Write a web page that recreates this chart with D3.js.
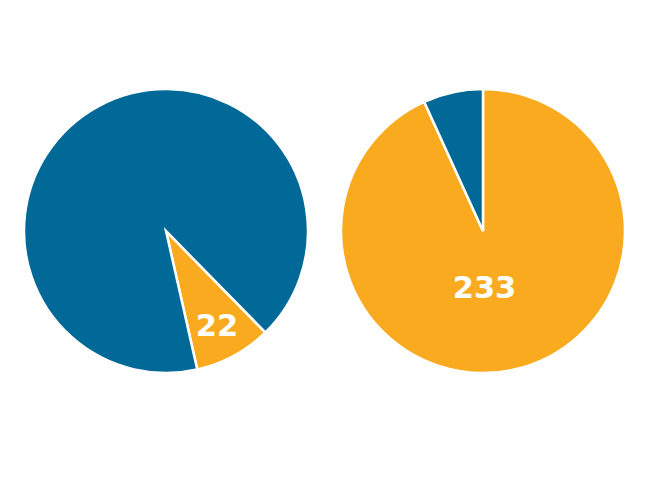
<!DOCTYPE html>
<html>
<head>
<meta charset="utf-8">
<script src="https://cdn.jsdelivr.net/npm/d3@7"></script>
<style>
  body { margin: 0; background: #fff; }
  svg { display: block; }
</style>
</head>
<body>
<svg width="649" height="480"></svg>
<script>
// two pies, same categories, totals of 250 each
const categories = ['yes', 'no'];
const leftValues = [22, 228];
const rightValues = [233, 17];
const labelShown = [true, false];

const colors = ['#f9aa1f', '#016997'];

const svg = d3.select('svg');
const radius = 142;

const color = d3.scaleOrdinal().domain(categories).range(colors);

// left pie starts its orange slice lower right, right one at 12 o'clock
const pies = [
  { values: leftValues, cx: 166, cy: 231, start: 135.6 },
  { values: rightValues, cx: 483, cy: 231, start: 0 }
];

const arc = d3.arc().innerRadius(0).outerRadius(radius);
const labelArc = d3.arc().innerRadius(radius * 0.75).outerRadius(radius * 0.75);

pies.forEach(p => {
  const startRad = (p.start * Math.PI) / 180;
  const pie = d3
    .pie()
    .sort(null)
    .startAngle(startRad)
    .endAngle(startRad + 2 * Math.PI);

  const rows = categories.map((c, i) => ({ key: c, value: p.values[i], label: labelShown[i] }));
  const arcs = pie.value(d => d.value)(rows);
  const total = d3.sum(p.values);

  const g = svg.append('g').attr('transform', `translate(${p.cx},${p.cy})`);

  g.selectAll('path')
    .data(arcs)
    .join('path')
    .attr('d', arc)
    .attr('fill', d => color(d.data.key))
    .attr('stroke', '#fff')
    .attr('stroke-width', 2.5)
    .attr('stroke-linejoin', 'miter');

  const fontSize = 30.5;
  g.selectAll('text')
    .data(arcs.filter(d => d.data.label))
    .join('text')
    .attr('transform', d => {
      // big slices get their label just under the centre
      if (d.data.value / total > 0.5) return `translate(1.5,${radius * 0.39})`;
      const [x, y] = labelArc.centroid(d);
      return `translate(${x},${y})`;
    })
    .attr('y', fontSize * 0.365)
    .attr('text-anchor', 'middle')
    .style('font-family', '"DejaVu Sans", sans-serif')
    .style('font-weight', 700)
    .style('font-size', fontSize + 'px')
    .attr('fill', '#fff')
    .text(d => d.data.value);
});
</script>
</body>
</html>
